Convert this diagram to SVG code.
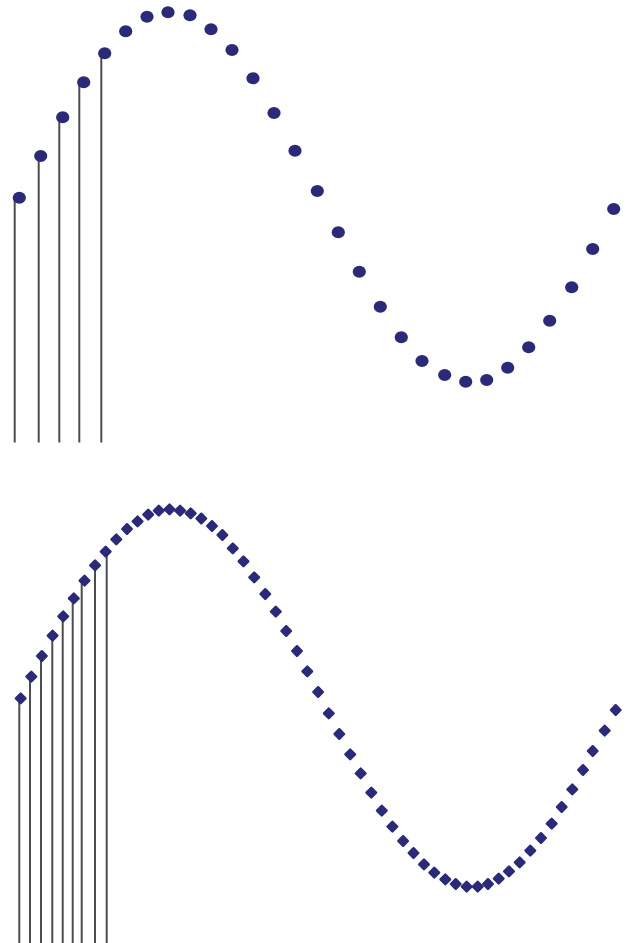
<svg xmlns="http://www.w3.org/2000/svg" xmlns:xlink="http://www.w3.org/1999/xlink" width="629" height="943" viewBox="0 0 629 943">
<style>
.stem{stroke:#4d4d4d;stroke-width:2;fill:none}
.mk{fill:#2b2a78}
</style>
<defs>
<ellipse id="dot" class="mk" cx="0" cy="0" rx="6.6" ry="6"/>
<rect id="dia" class="mk" x="-4.6" y="-4.6" width="9.2" height="9.2" rx="1.2" transform="rotate(45)"/>
</defs>
<rect width="629" height="943" fill="#ffffff"/>
<g id="top-stems">
<line class="stem" x1="14.7" y1="197.7" x2="14.7" y2="442.5"/>
<line class="stem" x1="38.7" y1="156" x2="38.7" y2="442.5"/>
<line class="stem" x1="59.3" y1="117.3" x2="59.3" y2="442.5"/>
<line class="stem" x1="79.3" y1="82.3" x2="79.3" y2="442.5"/>
<line class="stem" x1="101.3" y1="53.3" x2="101.3" y2="442.5"/>
</g>
<g id="top-samples">
<use xlink:href="#dot" x="19.3" y="197.7"/>
<use xlink:href="#dot" x="40.7" y="156"/>
<use xlink:href="#dot" x="62.7" y="117.3"/>
<use xlink:href="#dot" x="83.7" y="82.3"/>
<use xlink:href="#dot" x="104.7" y="53.3"/>
<use xlink:href="#dot" x="125.7" y="31.3"/>
<use xlink:href="#dot" x="147" y="16.7"/>
<use xlink:href="#dot" x="168" y="12.3"/>
<use xlink:href="#dot" x="190" y="15.3"/>
<use xlink:href="#dot" x="211" y="29.3"/>
<use xlink:href="#dot" x="232" y="50"/>
<use xlink:href="#dot" x="253" y="78.3"/>
<use xlink:href="#dot" x="274" y="113"/>
<use xlink:href="#dot" x="295" y="150.7"/>
<use xlink:href="#dot" x="317.3" y="191"/>
<use xlink:href="#dot" x="338.3" y="232.3"/>
<use xlink:href="#dot" x="359.3" y="271.7"/>
<use xlink:href="#dot" x="380.3" y="306.7"/>
<use xlink:href="#dot" x="401.3" y="337.3"/>
<use xlink:href="#dot" x="422" y="361"/>
<use xlink:href="#dot" x="444.7" y="375"/>
<use xlink:href="#dot" x="465.7" y="381.7"/>
<use xlink:href="#dot" x="486.7" y="380"/>
<use xlink:href="#dot" x="507.7" y="367.7"/>
<use xlink:href="#dot" x="528.7" y="347.3"/>
<use xlink:href="#dot" x="549.7" y="320.7"/>
<use xlink:href="#dot" x="571.7" y="287.3"/>
<use xlink:href="#dot" x="592.7" y="249"/>
<use xlink:href="#dot" x="613.7" y="209"/>
</g>
<g id="bottom-stems">
<line class="stem" x1="19.3" y1="698.3" x2="19.3" y2="943"/>
<line class="stem" x1="30" y1="676.7" x2="30" y2="943"/>
<line class="stem" x1="41" y1="656" x2="41" y2="943"/>
<line class="stem" x1="52.3" y1="635.7" x2="52.3" y2="943"/>
<line class="stem" x1="62.7" y1="616.3" x2="62.7" y2="943"/>
<line class="stem" x1="72.7" y1="598.3" x2="72.7" y2="943"/>
<line class="stem" x1="81.7" y1="580.7" x2="81.7" y2="943"/>
<line class="stem" x1="95" y1="565.3" x2="95" y2="943"/>
<line class="stem" x1="106.7" y1="551.7" x2="106.7" y2="943"/>
</g>
<g id="bottom-samples">
<use xlink:href="#dia" x="20.7" y="698.3"/>
<use xlink:href="#dia" x="31.3" y="676.7"/>
<use xlink:href="#dia" x="41.9" y="656"/>
<use xlink:href="#dia" x="52.6" y="635.7"/>
<use xlink:href="#dia" x="63.2" y="616.3"/>
<use xlink:href="#dia" x="73.8" y="598.3"/>
<use xlink:href="#dia" x="84.5" y="580.7"/>
<use xlink:href="#dia" x="95.1" y="565.3"/>
<use xlink:href="#dia" x="105.7" y="551.7"/>
<use xlink:href="#dia" x="116.3" y="539.3"/>
<use xlink:href="#dia" x="127" y="529"/>
<use xlink:href="#dia" x="137.6" y="521.3"/>
<use xlink:href="#dia" x="148.2" y="514.7"/>
<use xlink:href="#dia" x="158.8" y="510.7"/>
<use xlink:href="#dia" x="169.5" y="509.3"/>
<use xlink:href="#dia" x="180.1" y="510.7"/>
<use xlink:href="#dia" x="190.7" y="513.3"/>
<use xlink:href="#dia" x="201.3" y="518.5"/>
<use xlink:href="#dia" x="212" y="526"/>
<use xlink:href="#dia" x="222.4" y="535"/>
<use xlink:href="#dia" x="232.8" y="548.3"/>
<use xlink:href="#dia" x="243.5" y="561.3"/>
<use xlink:href="#dia" x="254.2" y="577.3"/>
<use xlink:href="#dia" x="265.3" y="594"/>
<use xlink:href="#dia" x="275.8" y="611.7"/>
<use xlink:href="#dia" x="286.2" y="631"/>
<use xlink:href="#dia" x="297" y="651"/>
<use xlink:href="#dia" x="307.3" y="671.3"/>
<use xlink:href="#dia" x="318.1" y="692"/>
<use xlink:href="#dia" x="328.8" y="713.3"/>
<use xlink:href="#dia" x="339.3" y="734"/>
<use xlink:href="#dia" x="350.2" y="754.3"/>
<use xlink:href="#dia" x="360.7" y="773.3"/>
<use xlink:href="#dia" x="371.3" y="792.7"/>
<use xlink:href="#dia" x="381.8" y="810.7"/>
<use xlink:href="#dia" x="392.4" y="826.7"/>
<use xlink:href="#dia" x="403.1" y="841"/>
<use xlink:href="#dia" x="413.5" y="853"/>
<use xlink:href="#dia" x="424" y="864.3"/>
<use xlink:href="#dia" x="434.3" y="872.7"/>
<use xlink:href="#dia" x="445.3" y="879.3"/>
<use xlink:href="#dia" x="455.7" y="884"/>
<use xlink:href="#dia" x="466.7" y="886.7"/>
<use xlink:href="#dia" x="477.7" y="886.7"/>
<use xlink:href="#dia" x="488" y="884"/>
<use xlink:href="#dia" x="498.7" y="878.7"/>
<use xlink:href="#dia" x="509" y="871.3"/>
<use xlink:href="#dia" x="519.7" y="862.3"/>
<use xlink:href="#dia" x="530.3" y="850.7"/>
<use xlink:href="#dia" x="541" y="838"/>
<use xlink:href="#dia" x="551.7" y="823.7"/>
<use xlink:href="#dia" x="561.7" y="807"/>
<use xlink:href="#dia" x="572.3" y="789.3"/>
<use xlink:href="#dia" x="583" y="770"/>
<use xlink:href="#dia" x="592.7" y="751"/>
<use xlink:href="#dia" x="604.7" y="730.7"/>
<use xlink:href="#dia" x="615.7" y="710"/>
</g>
</svg>
